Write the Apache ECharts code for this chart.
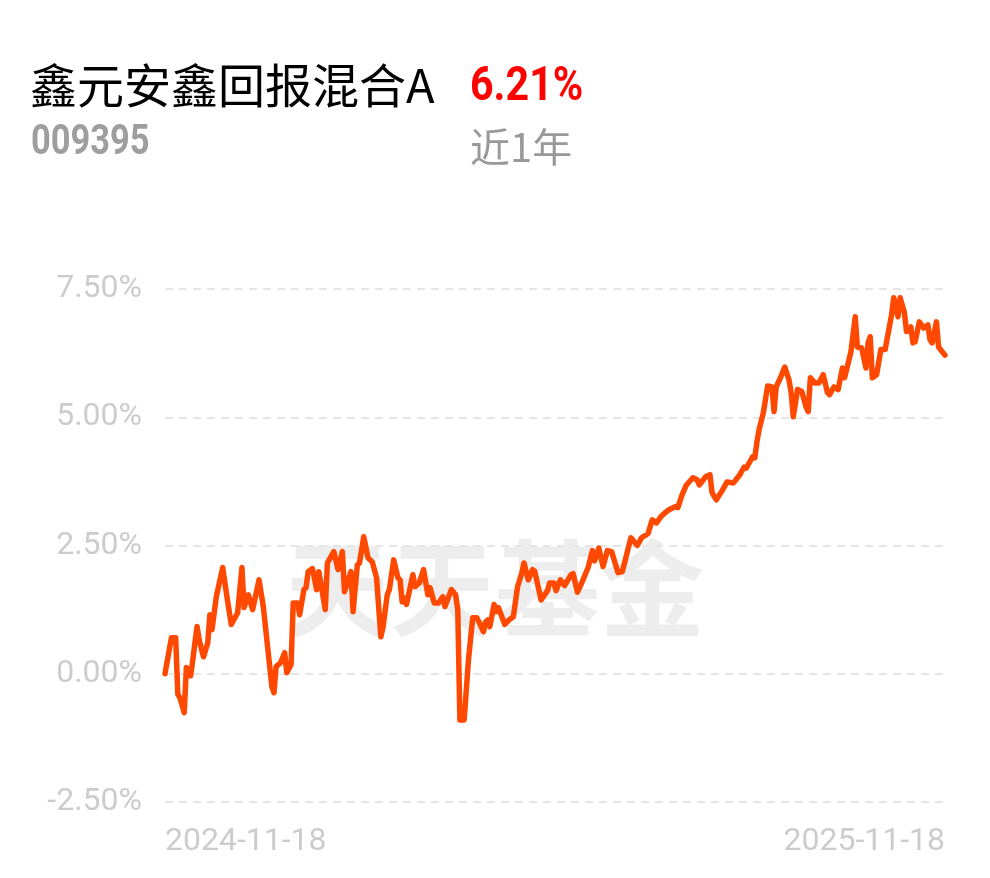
<!DOCTYPE html>
<html>
<head>
<meta charset="utf-8">
<script src="https://cdn.jsdelivr.net/npm/echarts@6/dist/echarts.min.js"></script>
<style>
html,body{margin:0;padding:0;background:#fff;}
#chart{width:990px;height:878px;}
</style>
</head>
<body>
<div id="chart"></div>
<script>
// Fund info
const fundName = '鑫元安鑫回报混合A';
const fundCode = '009395';
const periodReturn = '6.21%';
const periodLabel = '近1年';
const watermark = '天天基金';

// X axis: days since start date; labels at both ends
const xLabels = ['2024-11-18', '2025-11-18'];
const totalDays = 365;

// Y axis ticks (percent)
const yMin = -2.5, yMax = 7.5, yStep = 2.5;

// Observation day offsets
const days = [
0,3,5,6,7,9,10,12,13,15,
16,18,20,21,22,24,27,29,31,34,
36,37,39,41,44,46,48,50,51,52,
54,56,57,59,60,62,63,65,66,67,
69,71,72,75,76,79,81,83,84,87,
88,90,91,93,95,97,99,101,102,104,
105,107,109,110,111,112,113,116,117,119,
121,123,124,126,128,130,131,134,136,137,
138,140,142,144,146,149,150,151,152,154,
155,156,159,161,163,165,167,168,170,172,
173,176,179,180,182,183,185,187,190,191,
193,195,198,200,201,203,205,207,209,212,
214,218,221,223,226,228,230,232,234,236,
239,240,242,244,247,249,250,253,255,256,
258,261,263,266,269,271,272,275,276,277,
278,280,282,284,285,286,288,290,292,293,
294,296,298,300,301,302,304,306,308,310,
311,313,315,317,318,321,323,324,326,328,
329,330,331,333,335,337,340,341,343,344,
346,347,349,350,351,353,355,357,358,359,
361,362,364,365
];

// Cumulative return (%)
const returns = [
0.00,0.70,0.70,-0.40,-0.47,-0.76,0.12,-0.04,0.27,0.92,
0.66,0.33,0.60,1.15,0.86,1.50,2.07,1.50,0.96,1.19,
2.07,1.29,1.54,1.25,1.83,1.31,0.53,-0.25,-0.37,0.14,
0.21,0.41,0.02,0.18,1.38,1.38,1.15,1.64,1.68,1.99,
2.05,1.64,1.99,1.25,2.16,2.38,2.03,2.38,1.60,1.99,
1.21,2.12,2.16,2.67,2.26,2.18,1.87,0.72,0.90,1.54,
1.64,2.22,1.87,1.83,1.40,1.48,1.35,1.93,1.70,1.77,
2.03,1.54,1.68,1.38,1.38,1.50,1.31,1.64,1.54,1.25,
-0.90,-0.90,0.27,1.09,1.09,0.82,1.01,1.05,0.92,1.35,
1.21,1.29,0.96,1.05,1.11,1.70,1.97,2.16,1.83,2.03,
2.00,1.44,1.62,1.77,1.77,1.62,1.83,1.72,1.93,1.95,
1.59,1.77,2.07,2.40,2.20,2.45,2.09,2.40,2.38,1.97,
1.99,2.65,2.50,2.65,2.73,3.00,2.94,3.06,3.14,3.20,
3.26,3.24,3.49,3.68,3.82,3.78,3.68,3.84,3.88,3.53,
3.39,3.59,3.74,3.72,3.88,4.03,4.01,4.23,4.21,4.52,
4.76,5.09,5.61,5.59,5.11,5.59,5.77,5.98,5.73,5.48,
5.01,5.54,5.50,5.20,5.11,5.77,5.67,5.67,5.83,5.48,
5.44,5.59,5.54,5.96,5.77,6.28,6.96,6.37,6.35,5.96,
6.45,6.57,5.77,5.83,6.32,6.32,7.00,7.33,6.96,7.33,
7.04,6.67,6.76,6.45,6.47,6.86,6.74,6.80,6.51,6.45,
6.86,6.37,6.26,6.21
];

const seriesData = days.map((d, i) => [d, returns[i]]);

const chart = echarts.init(document.getElementById('chart'), null, {renderer: 'canvas'});
const cjk = '"Noto Sans CJK SC", "Noto Sans", sans-serif';
const num = 'Roboto, "Noto Sans", sans-serif';

chart.setOption({
  animation: false,
  backgroundColor: '#ffffff',
  grid: {left: 165, right: 45, top: 289, bottom: 76, containLabel: false},
  xAxis: {
    type: 'value',
    min: 0,
    max: totalDays,
    interval: totalDays,
    axisLine: {show: false},
    axisTick: {show: false},
    splitLine: {show: false},
    axisLabel: {
      color: '#cccccc',
      fontSize: 32,
      fontFamily: num,
      margin: 24,
      alignMinLabel: 'left',
      alignMaxLabel: 'right',
      formatter: v => (v === 0 ? xLabels[0] : xLabels[1])
    }
  },
  yAxis: {
    type: 'value',
    min: yMin,
    max: yMax,
    interval: yStep,
    axisLine: {show: false},
    axisTick: {show: false},
    axisLabel: {
      color: '#cccccc',
      fontSize: 32,
      fontFamily: num,
      margin: 23,
      formatter: v => v.toFixed(2) + '%'
    },
    splitLine: {
      show: true,
      lineStyle: {color: '#e6e6e6', width: 2, type: [8, 6]}
    }
  },
  graphic: [
    {
      type: 'text', left: 30, top: 62, z: 10,
      style: {text: fundName, fill: '#000000', font: '47px ' + cjk}
    },
    {
      type: 'text', x: 470, y: 88, scaleX: 0.84, z: 10,
      style: {text: periodReturn, fill: '#ff0000', font: 'bold 49px ' + num, textVerticalAlign: 'middle'}
    },
    {
      type: 'text', x: 31, y: 143, scaleX: 0.82, z: 10,
      style: {text: fundCode, fill: '#9e9e9e', font: 'bold 42px ' + num, textVerticalAlign: 'middle'}
    },
    {
      type: 'text', left: 470, top: 127, z: 10,
      style: {text: periodLabel, fill: '#999999', font: '40px ' + cjk}
    },
    {
      type: 'text', x: 495, y: 588, z: -1, silent: true,
      style: {text: watermark, fill: 'rgba(0,0,0,0.07)', font: 'bold 105px ' + cjk,
              textAlign: 'center', textVerticalAlign: 'middle'}
    }
  ],
  series: [{
    type: 'line',
    data: seriesData,
    showSymbol: false,
    symbol: 'none',
    smooth: false,
    z: 5,
    lineStyle: {color: '#ff4800', width: 5.5, join: 'round', cap: 'round'}
  }]
});
</script>
</body>
</html>
